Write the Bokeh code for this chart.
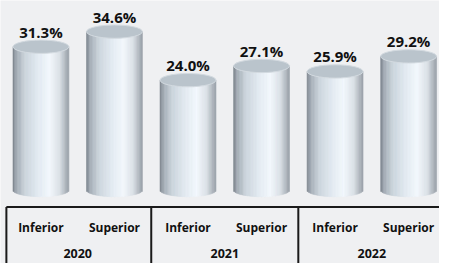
import numpy as np
from bokeh.plotting import figure
from bokeh.models import Range1d, ColumnDataSource
from bokeh.core.properties import value
from bokeh.embed import file_html
from bokeh.resources import INLINE

# ---- data ----
years = ["2020", "2021", "2022"]
levels = ["Inferior", "Superior"]
values = [31.3, 34.6, 24.0, 27.1, 25.9, 29.2]

BG = "#eff0f2"
FONT = "Open Sans"

p = figure(width=439, height=263, output_backend="svg", toolbar_location=None,
           x_range=Range1d(-0.55, 5.42), y_range=Range1d(-16.05, 41.4),
           min_border=0)
p.axis.visible = False
p.grid.visible = False
p.outline_line_color = None
p.background_fill_color = BG
p.border_fill_color = BG

xs = np.arange(len(values), dtype=float)
bw = 0.76      # bar width (category units)
eh = 2.9       # ellipse height (value units)

stops = [
    (0.00, (0x7a, 0x82, 0x8a)),
    (0.07, (0xa4, 0xad, 0xb6)),
    (0.22, (0xcb, 0xd4, 0xdc)),
    (0.45, (0xe2, 0xea, 0xf1)),
    (0.66, (0xf3, 0xf8, 0xfd)),
    (0.84, (0xda, 0xe0, 0xe6)),
    (1.00, (0x98, 0xa0, 0xa8)),
]


def grad(t):
    for (t0, c0), (t1, c1) in zip(stops[:-1], stops[1:]):
        if t0 <= t <= t1:
            f = (t - t0) / (t1 - t0)
            c = [round(a + (b - a) * f) for a, b in zip(c0, c1)]
            return "#%02x%02x%02x" % tuple(c)
    return "#%02x%02x%02x" % stops[-1][1]


N = 40
L, R, T, B, C = [], [], [], [], []
for i, v in enumerate(values):
    for k in range(N):
        t0, t1 = k / N, (k + 1) / N
        tm = (t0 + t1) / 2
        u = 2 * (tm - 0.5)
        L.append(xs[i] - bw / 2 + t0 * bw)
        R.append(xs[i] - bw / 2 + t1 * bw)
        T.append(v)
        B.append(-eh / 2 * np.sqrt(max(0.0, 1 - u * u)))
        C.append(grad(tm))

p.quad(left=L, right=R, top=T, bottom=B, fill_color=C, line_color=C, line_width=0.6)

# top caps
p.ellipse(x=xs, y=values, width=bw, height=eh, fill_color="#bac4cc",
          line_color="#d3dae0", line_width=1)

# value labels
src = ColumnDataSource(dict(x=xs, y=[v + 3.3 for v in values],
                            t=["%.1f%%" % v for v in values]))
p.text(x="x", y="y", text="t", source=src, text_align="center",
       text_baseline="middle", text_font=value(FONT), text_font_style="bold",
       text_font_size="15px", text_color="#111111")

# table lines
p.segment(x0=[-0.47], y0=[-3.7], x1=[5.42], y1=[-3.7], line_color="#1a1a1a", line_width=2)
gx = [-0.47, 1.5, 3.5]
p.segment(x0=gx, y0=[-3.7] * 3, x1=gx, y1=[-16.05] * 3, line_color="#1a1a1a", line_width=2)

# category labels
cat = [levels[i % 2] for i in range(len(values))]
p.text(x=xs, y=[-8.2] * len(values), text=cat, text_align="center",
       text_baseline="middle", text_font=value(FONT), text_font_style="bold",
       text_font_size="12px", text_color="#111111")
p.text(x=[0.5, 2.5, 4.5], y=[-13.8] * 3, text=years, text_align="center",
       text_baseline="middle", text_font=value(FONT), text_font_style="bold",
       text_font_size="12.5px", text_color="#111111")

open("out.html", "w").write(file_html(p, INLINE))
